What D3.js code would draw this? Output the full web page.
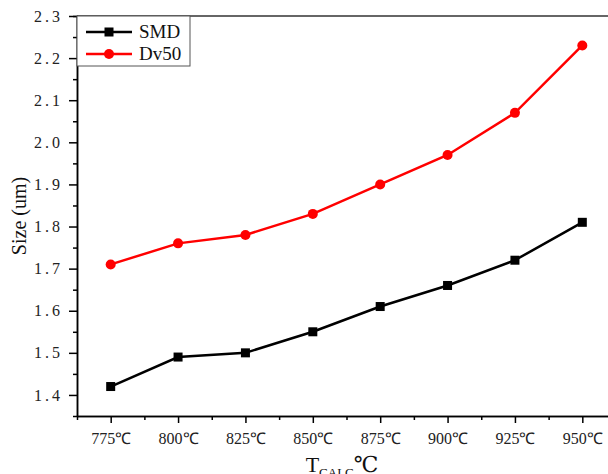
<!DOCTYPE html>
<html>
<head>
<meta charset="utf-8">
<script src="https://cdn.jsdelivr.net/npm/d3@7"></script>
<style>
  body { margin: 0; background: #fff; }
  svg { display: block; font-family: 'Liberation Serif', 'DejaVu Serif', serif; }
  .domain, .tick line { stroke: #000; stroke-width: 1.5px; }
</style>
</head>
<body>
<svg width="608" height="474"></svg>
<script>
// categories and series
const temps = [775, 800, 825, 850, 875, 900, 925, 950]
const smd = [1.42, 1.49, 1.50, 1.55, 1.61, 1.66, 1.72, 1.81]
const dv50 = [1.71, 1.76, 1.78, 1.83, 1.90, 1.97, 2.07, 2.23]
const yTicks = [1.4, 1.5, 1.6, 1.7, 1.8, 1.9, 2.0, 2.1, 2.2, 2.3]

const svg = d3.select('svg')

const margin = {top: 16, right: -8, bottom: 58, left: 77},
width = 608 - margin.left - margin.right,
height = 474 - margin.top - margin.bottom

const x = d3.scaleLinear().domain([762.5, 962.5]).range([0, width])
const y = d3.scaleLinear().domain([1.35, 2.3]).range([height, 0])

const g = svg
.append('g')
.attr('transform', `translate(${margin.left}, ${margin.top})`)

// top frame line
g.append('line')
.attr('x1', 0).attr('x2', width)
.attr('y1', 0).attr('y2', 0)
.attr('stroke', '#333').attr('stroke-width', 1.5)

// minor ticks first, then major axes on top
const xMinor = d3.range(787.5, 962.5, 25)
g.append('g')
.attr('transform', `translate(0, ${height})`)
.call(d3.axisBottom(x).tickValues(xMinor).tickSize(4).tickFormat(''))

const yMinor = d3.range(1.45, 2.3, 0.1)
g.append('g')
.call(d3.axisLeft(y).tickValues(yMinor).tickSize(4).tickFormat(''))

const xAxis = g.append('g')
.attr('transform', `translate(0, ${height})`)
.call(d3.axisBottom(x).tickValues(temps).tickSize(7).tickPadding(10).tickSizeOuter(0)
  .tickFormat(d => d + '℃'))
.attr('font-family', 'Liberation Serif, serif')
.attr('font-size', 16)

xAxis.selectAll('.tick text').attr('fill', '#222')

const yAxis = g.append('g')
.call(d3.axisLeft(y).tickValues(yTicks).tickSize(8).tickPadding(6).tickSizeOuter(0)
  .tickFormat(d3.format('.1f')))
.attr('font-family', 'Liberation Serif, serif')
.attr('font-size', 16)

yAxis.selectAll('.tick text')
.attr('fill', '#222')
.attr('letter-spacing', '3px')

// axis titles
svg.append('text')
.attr('transform', `translate(26, ${margin.top + height / 2}) rotate(-90)`)
.attr('text-anchor', 'middle')
.attr('font-size', 20)
.attr('fill', '#111')
.text('Size (um)')

const xt = svg.append('text')
.attr('x', 342).attr('y', 472)
.attr('text-anchor', 'middle')
.attr('font-size', 22)
.attr('fill', '#111')
xt.append('tspan').text('T')
xt.append('tspan').attr('font-size', 13).attr('dy', 5).text('CALC')
xt.append('tspan').attr('dy', -5).text('℃')

// series
const series = [
  {name: 'SMD', values: smd, color: '#000', shape: 'square'},
  {name: 'Dv50', values: dv50, color: '#f00', shape: 'circle'}
]

const line = d3.line()
.x((d, i) => x(temps[i]))
.y(d => y(d))

series.forEach(s => {
  g.append('path')
  .datum(s.values)
  .attr('fill', 'none')
  .attr('stroke', s.color)
  .attr('stroke-width', 2.5)
  .attr('d', line)

  if (s.shape === 'square') {
    g.selectAll('.sq')
    .data(s.values)
    .enter()
    .append('rect')
    .attr('x', (d, i) => x(temps[i]) - 4.5)
    .attr('y', d => y(d) - 4.5)
    .attr('width', 9)
    .attr('height', 9)
    .attr('fill', s.color)
  } else {
    g.selectAll('.ci')
    .data(s.values)
    .enter()
    .append('circle')
    .attr('cx', (d, i) => x(temps[i]))
    .attr('cy', d => y(d))
    .attr('r', 5)
    .attr('fill', s.color)
  }
})

// legend box
const leg = g.append('g')
leg.append('rect')
.attr('x', 0).attr('y', 0)
.attr('width', 113).attr('height', 50)
.attr('fill', '#fff')
.attr('stroke', '#555')
.attr('stroke-width', 1)

series.forEach((s, i) => {
  const ly = 16 + i * 22
  leg.append('line')
  .attr('x1', 9).attr('x2', 55)
  .attr('y1', ly).attr('y2', ly)
  .attr('stroke', s.color).attr('stroke-width', 2.5)
  if (s.shape === 'square') {
    leg.append('rect').attr('x', 32 - 4.5).attr('y', ly - 4.5)
    .attr('width', 9).attr('height', 9).attr('fill', s.color)
  } else {
    leg.append('circle').attr('cx', 32).attr('cy', ly).attr('r', 5).attr('fill', s.color)
  }
  leg.append('text')
  .attr('x', 62).attr('y', ly + 6)
  .attr('font-size', 19)
  .attr('fill', '#111')
  .text(s.name)
})
</script>
</body>
</html>
